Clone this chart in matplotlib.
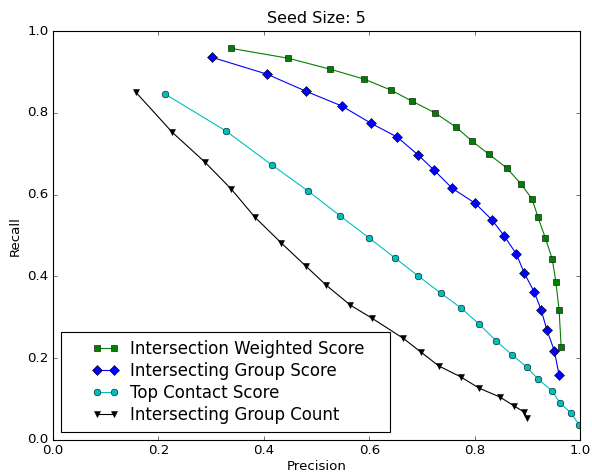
import matplotlib
matplotlib.use("Agg")
import matplotlib.pyplot as plt
from matplotlib.offsetbox import DrawingArea

plt.style.use('classic')

# Intersection Weighted Score
iws_p = [0.338, 0.446, 0.526, 0.590, 0.641, 0.681, 0.725, 0.765, 0.795, 0.827,
         0.861, 0.888, 0.909, 0.920, 0.934, 0.947, 0.954, 0.960, 0.964]
iws_r = [0.958, 0.934, 0.907, 0.883, 0.856, 0.829, 0.800, 0.765, 0.731, 0.699,
         0.665, 0.626, 0.589, 0.545, 0.494, 0.443, 0.386, 0.318, 0.227]

# Intersecting Group Score
igs_p = [0.302, 0.406, 0.480, 0.548, 0.603, 0.653, 0.693, 0.723, 0.757, 0.801,
         0.833, 0.856, 0.879, 0.894, 0.913, 0.926, 0.937, 0.951, 0.960]
igs_r = [0.936, 0.895, 0.853, 0.817, 0.775, 0.741, 0.697, 0.660, 0.616, 0.579,
         0.538, 0.499, 0.455, 0.408, 0.362, 0.318, 0.269, 0.218, 0.159]

# Top Contact Score
tcs_p = [0.213, 0.328, 0.416, 0.484, 0.545, 0.600, 0.649, 0.693, 0.736, 0.774,
         0.808, 0.841, 0.871, 0.899, 0.920, 0.947, 0.962, 0.983, 0.998]
tcs_r = [0.846, 0.756, 0.672, 0.609, 0.548, 0.494, 0.445, 0.401, 0.359, 0.323,
         0.284, 0.242, 0.208, 0.178, 0.149, 0.120, 0.090, 0.066, 0.037]

# Intersecting Group Count
igc_p = [0.157, 0.226, 0.288, 0.338, 0.383, 0.433, 0.480, 0.518, 0.564, 0.605,
         0.664, 0.698, 0.732, 0.774, 0.808, 0.848, 0.875, 0.894, 0.899]
igc_r = [0.851, 0.753, 0.680, 0.614, 0.545, 0.482, 0.425, 0.379, 0.330, 0.298,
         0.249, 0.215, 0.181, 0.154, 0.127, 0.105, 0.083, 0.068, 0.054]

fig = plt.figure(figsize=(7.4, 5.9125), dpi=80)
ax = fig.add_axes([0.0895, 0.0698, 0.8905, 0.8642])

ax.plot(iws_p, iws_r, 'g-s', label='Intersection Weighted Score', markeredgewidth=0.5)
ax.plot(igs_p, igs_r, 'b-D', label='Intersecting Group Score', markeredgewidth=0.5)
ax.plot(tcs_p, tcs_r, 'c-o', label='Top Contact Score', markeredgewidth=0.5)
ax.plot(igc_p, igc_r, 'k-v', label='Intersecting Group Count', markeredgewidth=0.5)

ax.set_xlim(0, 1)
ax.set_ylim(0, 1)
ax.set_xticks([0.0, 0.2, 0.4, 0.6, 0.8, 1.0])
ax.set_yticks([0.0, 0.2, 0.4, 0.6, 0.8, 1.0])
ax.set_title('Seed Size: 5', pad=7)
ax.set_xlabel('Precision', labelpad=2)
ax.set_ylabel('Recall')
leg = ax.legend(loc='lower left', numpoints=2, fontsize=15,
                borderpad=0.47, labelspacing=0.235, handlelength=1.62,
                handletextpad=0.66, borderaxespad=0.5)
# extra horizontal padding inside the legend frame
hb = leg._legend_handle_box
hb.sep = 0
hb._children = [DrawingArea(20.8, 0)] + list(hb._children) + [DrawingArea(15.5, 0)]

fig.savefig('out.png', dpi=80)
